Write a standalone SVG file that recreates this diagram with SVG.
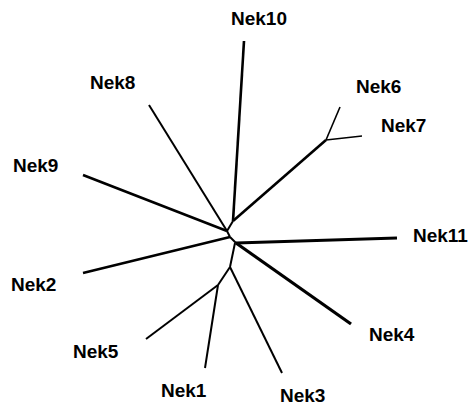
<svg xmlns="http://www.w3.org/2000/svg" width="472" height="405" viewBox="0 0 472 405">
<style>
text{font-family:"Liberation Sans",Arial,sans-serif;font-weight:bold;font-size:19px;fill:#000}
.b{stroke:#000;fill:none;stroke-linecap:butt;stroke-linejoin:round}
.t1{stroke-width:1.6}
.t2{stroke-width:2}
.t3{stroke-width:2.6}
.t4{stroke-width:3.2}
</style>
<rect width="472" height="405" fill="#fff"/>
<g id="connectors" class="b">
<line class="t3" x1="244" y1="41" x2="233" y2="221"/>
<line class="t3" x1="233" y1="221" x2="326" y2="140"/>
<line class="t1" x1="326" y1="140" x2="340" y2="107"/>
<line class="t1" x1="326" y1="140" x2="362" y2="136"/>
<line class="t2" x1="233" y1="221" x2="227" y2="231"/>
<line class="t2" x1="149" y1="105" x2="227" y2="231"/>
<line class="t3" x1="83" y1="175" x2="227" y2="231"/>
<line class="t2" x1="227" y1="231" x2="230" y2="237"/>
<line class="t3" x1="83" y1="273" x2="230" y2="237"/>
<line class="t2" x1="230" y1="237" x2="236" y2="243"/>
<line class="t4" x1="236" y1="243" x2="397" y2="238"/>
<line class="t4" x1="236" y1="243" x2="351" y2="324"/>
<line class="t2" x1="235" y1="243" x2="230" y2="267"/>
<line class="t2" x1="230" y1="267" x2="282" y2="373"/>
<line class="t2" x1="230" y1="267" x2="218" y2="285"/>
<line class="t2" x1="218" y1="285" x2="146" y2="339"/>
<line class="t2" x1="218" y1="285" x2="205" y2="368"/>
</g>
<g id="Nek10"><text x="231" y="25">Nek10</text></g>
<g id="Nek8"><text x="90" y="89">Nek8</text></g>
<g id="Nek6"><text x="356" y="93">Nek6</text></g>
<g id="Nek7"><text x="381" y="132">Nek7</text></g>
<g id="Nek9"><text x="13" y="172">Nek9</text></g>
<g id="Nek11"><text x="413" y="242">Nek11</text></g>
<g id="Nek2"><text x="11" y="291">Nek2</text></g>
<g id="Nek4"><text x="369" y="341">Nek4</text></g>
<g id="Nek5"><text x="73" y="358">Nek5</text></g>
<g id="Nek1"><text x="161" y="397">Nek1</text></g>
<g id="Nek3"><text x="280" y="402">Nek3</text></g>
</svg>
